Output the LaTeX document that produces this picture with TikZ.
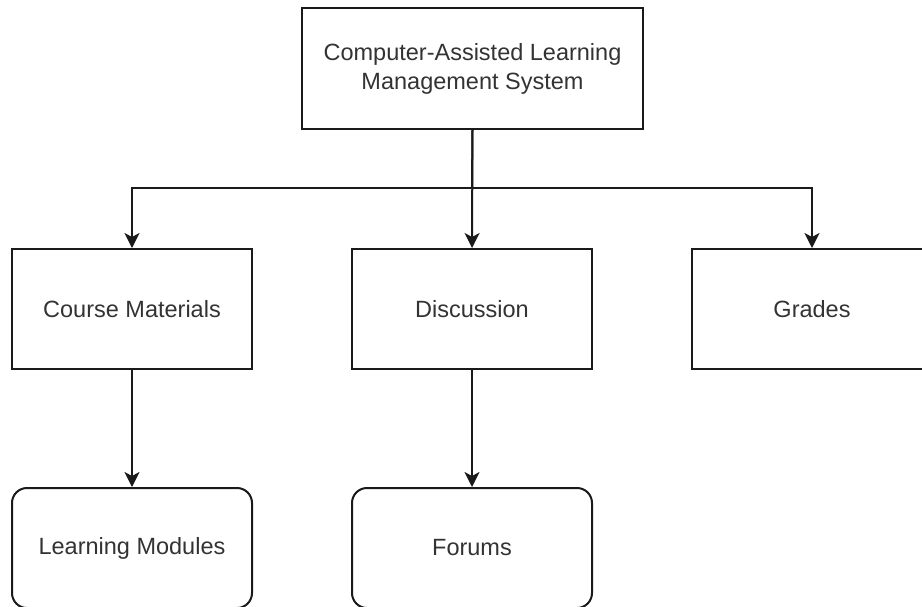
\documentclass[tikz,border=0pt]{standalone}
\usepackage{fontspec}
\setmainfont{Liberation Sans}
\usetikzlibrary{arrows.meta}
\definecolor{txt}{HTML}{333333}
\definecolor{ln}{HTML}{1A1A1A}
\tikzset{
  box/.style={draw=ln, line width=2pt, fill=white, minimum width=240pt, minimum height=120pt,
    inner sep=0pt, align=center, text=txt, font=\fontsize{23.5}{29}\selectfont},
  rbox/.style={box, rounded corners=15pt},
  conn/.style={draw=ln, line width=2pt, -{Stealth[length=15pt, width=15pt, inset=4pt]}},
  plain/.style={draw=ln, line width=2pt}
}
\begin{document}
\begin{tikzpicture}[x=1pt, y=-1pt]
\useasboundingbox (0,0) rectangle (922,606);
\clip (0,0) rectangle (922,606);
\fill[white] (0,0) rectangle (922,606);
\node[box, minimum width=341pt, minimum height=121pt] (top) at (472.5,68.5) {Computer-Assisted Learning\\Management System};
\node[box] (course) at (132,309) {Course Materials};
\node[box] (disc) at (472,309) {Discussion};
\node[box] (grades) at (812,309) {Grades};
\node[rbox] (lm) at (132,548) {Learning Modules};
\node[rbox] (forums) at (472,548) {Forums};
\coordinate (bus) at (472,188);
\draw[plain] (top.south) -- (bus);
\draw[conn] (bus) -| (course.north);
\draw[conn] (bus) -| (grades.north);
\draw[conn] (top.south) -- (disc.north);
\draw[conn] (course.south) -- (lm.north);
\draw[conn] (disc.south) -- (forums.north);
\end{tikzpicture}
\end{document}
